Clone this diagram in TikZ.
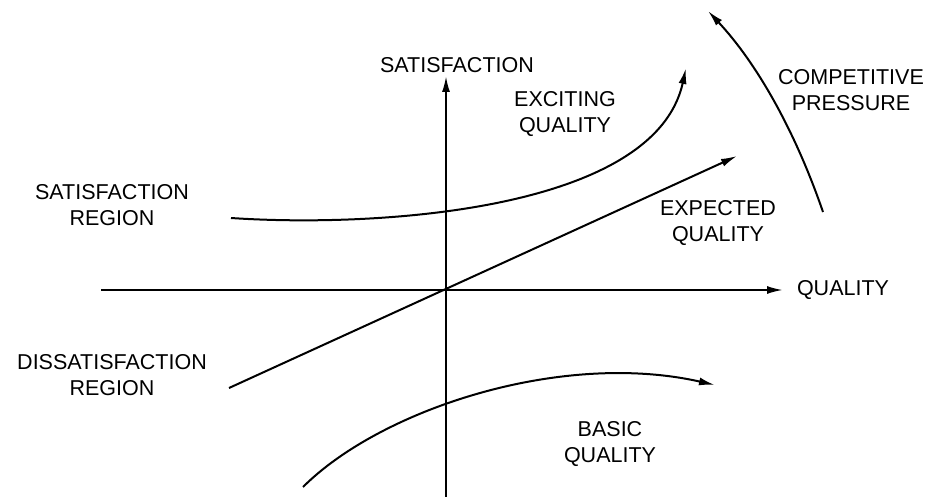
\documentclass[tikz,border=0pt]{standalone}
\usepackage{fontspec}
\setmainfont{Liberation Sans}
\usetikzlibrary{arrows.meta}
\begin{document}
\begin{tikzpicture}[x=1pt,y=-1pt,
  curve/.style={line width=2pt,-{Latex[length=16pt,width=8pt]}},
  lbl/.style={inner sep=0pt,align=center,font=\fontsize{21.5}{26}\selectfont}]
\useasboundingbox (0,0) rectangle (929,497);
% coordinates
\coordinate (xs) at (101,290);
\coordinate (xe) at (783,290);
\coordinate (ys) at (446,497);
\coordinate (ye) at (446,76);
\coordinate (es) at (229,388);
\coordinate (ee) at (737,156);
\coordinate (xcs) at (231,218);
\coordinate (xce) at (686,68);
\coordinate (bs) at (303,487);
\coordinate (be) at (715,385);
\coordinate (cs) at (823,212);
\coordinate (ce) at (708,11);
% axes and curves
\draw[curve] (xs) -- (xe);
\draw[curve] (ys) -- (ye);
\draw[curve] (es) -- (ee);
\draw[curve] (xcs) .. controls (380,228) and (655,210) .. (xce);
\draw[curve] (bs) .. controls (380,410) and (560,350) .. (be);
\draw[curve] (cs) .. controls (794.7,129.7) and (756.3,62.7) .. (ce);
% labels
\node[lbl] (sat) at (457,65) {SATISFACTION};
\node[lbl] (exc) at (565,114) {EXCITING\\QUALITY};
\node[lbl] (comp) at (851,90) {COMPETITIVE\\PRESSURE};
\node[lbl] (satr) at (112,205) {SATISFACTION\\REGION};
\node[lbl] (dis) at (112,375) {DISSATISFACTION\\REGION};
\node[lbl] (exp) at (718,223) {EXPECTED\\QUALITY};
\node[lbl] (qual) at (843,290) {QUALITY};
\node[lbl] (basic) at (610,444) {BASIC\\QUALITY};
\end{tikzpicture}
\end{document}
